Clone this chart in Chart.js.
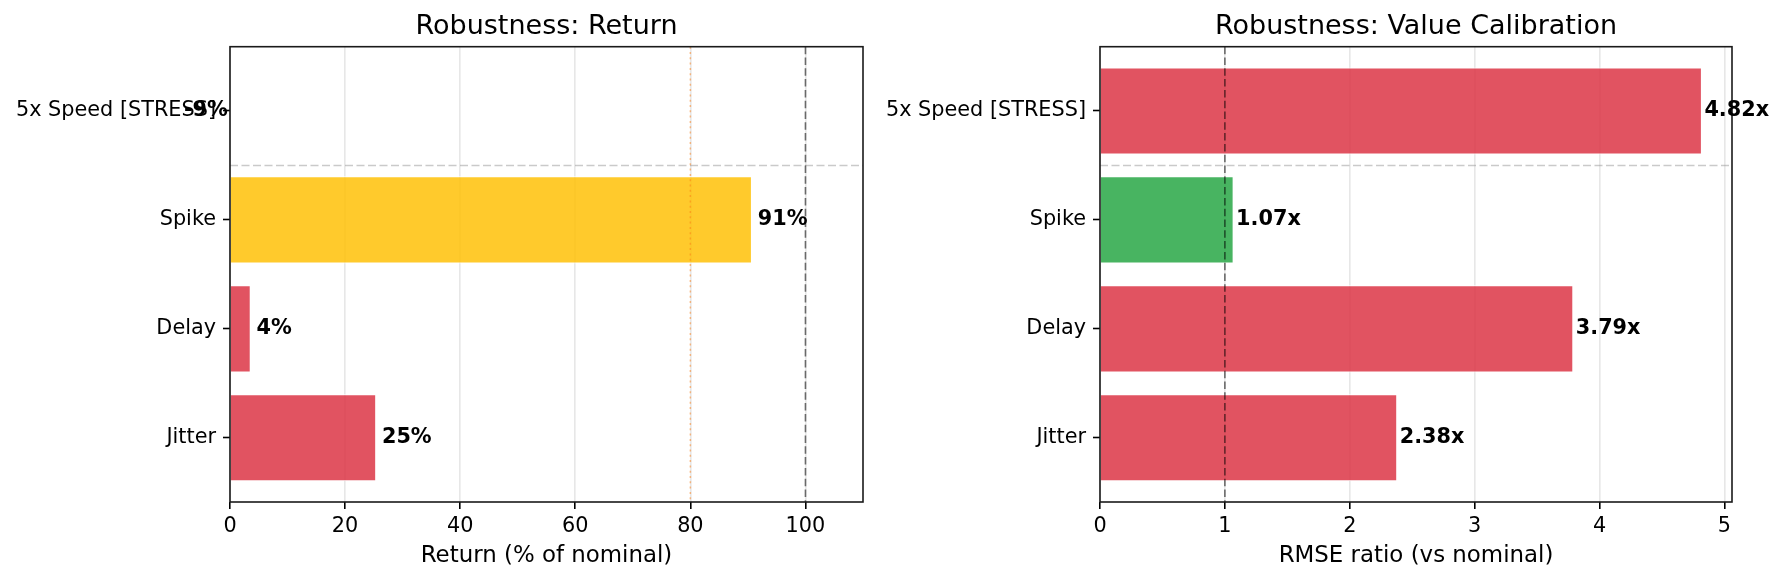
<!DOCTYPE html>
<html>
<head>
<meta charset="utf-8">
<script src="https://cdn.jsdelivr.net/npm/chart.js@4.4.1/dist/chart.umd.min.js"></script>
<style>
  html, body { margin: 0; padding: 0; background: #fff; }
  #wrap { position: relative; width: 1785px; height: 583px; }
  .box { position: absolute; top: 0; height: 583px; }
</style>
</head>
<body>
<div id="wrap">
  <div class="box" style="left:0;width:892px"><canvas id="ret"></canvas></div>
  <div class="box" style="left:850px;width:935px"><canvas id="rmse"></canvas></div>
</div>
<script>
// categories, top to bottom
const categories = ['5x Speed [STRESS]', 'Spike', 'Delay', 'Jitter']

const returnPct = [-9, 90.7, 3.6, 25.4]
const returnColors = ['red', 'yellow', 'red', 'red']
const returnTicks = [0, 20, 40, 60, 80, 100]
const returnMax = 110

const rmseRatio = [4.82, 1.07, 3.79, 2.38]
const rmseColors = ['red', 'green', 'red', 'red']
const rmseTicks = [0, 1, 2, 3, 4, 5]
const rmseMax = 5.061

// reference lines (x value + style name)
const returnRefs = [{x: 100, style: 'dash'}, {x: 80, style: 'dot'}]
const rmseRefs = [{x: 1, style: 'dash'}]
const stressSplit = 0.5

const palette = {
  red: 'rgba(220,53,69,0.85)',
  yellow: 'rgba(255,193,7,0.85)',
  green: 'rgba(40,167,69,0.85)'
}
const lineStyles = {
  dash: {color: 'rgba(0,0,0,0.55)', width: 1.6, dash: [7.5, 3.3]},
  dot: {color: 'rgba(253,126,20,0.5)', width: 1.5, dash: [2, 3.3]}
}

Chart.defaults.font.family = '"DejaVu Sans", sans-serif'
Chart.defaults.color = '#000'

// separator, reference lines, frame and value labels, drawn on top
function overlay(o) {
  return {
    id: 'overlay',
    afterDraw(chart) {
      const {ctx, chartArea: a} = chart
      const xs = chart.scales.x, ys = chart.scales.y
      ctx.save()

      let y = ys.getPixelForValue(stressSplit)
      ctx.strokeStyle = 'rgba(150,150,150,0.5)'
      ctx.lineWidth = 1.6
      ctx.setLineDash([8, 3.5])
      ctx.beginPath(); ctx.moveTo(a.left, y); ctx.lineTo(a.right, y); ctx.stroke()

      o.refs.forEach(r => {
        const st = lineStyles[r.style]
        const x = xs.getPixelForValue(r.x)
        ctx.strokeStyle = st.color
        ctx.lineWidth = st.width
        ctx.setLineDash(st.dash)
        ctx.beginPath(); ctx.moveTo(x, a.top); ctx.lineTo(x, a.bottom); ctx.stroke()
      })

      ctx.setLineDash([])
      ctx.strokeStyle = '#1a1a1a'
      ctx.lineWidth = 1.6
      ctx.strokeRect(a.left, a.top, a.right - a.left, a.bottom - a.top)

      ctx.fillStyle = '#000'
      ctx.font = 'bold 20.8px "DejaVu Sans"'
      ctx.textBaseline = 'middle'
      ctx.textAlign = 'left'
      o.values.forEach((v, i) => {
        ctx.fillText(o.format(v), xs.getPixelForValue(v + o.offset), ys.getPixelForValue(i))
      })
      ctx.restore()
    }
  }
}

function makeChart(id, opts) {
  return new Chart(document.getElementById(id), {
    type: 'bar',
    data: {
      datasets: [{
        data: opts.values.map((v, i) => ({x: v, y: i})),
        backgroundColor: opts.colors.map(c => palette[c]),
        borderColor: '#fff',
        borderWidth: 1,
        barPercentage: 0.8,
        categoryPercentage: 1
      }]
    },
    options: {
      indexAxis: 'y',
      responsive: true,
      maintainAspectRatio: false,
      animation: false,
      devicePixelRatio: 1,
      layout: {padding: {left: 0, right: opts.padRight, top: 0, bottom: 0}},
      plugins: {
        legend: {display: false},
        tooltip: {enabled: false},
        title: {
          display: true, text: opts.title, fullSize: false, color: '#000',
          font: {size: 27, weight: 'normal'}, padding: {top: 11, bottom: 3.3}
        }
      },
      scales: {
        x: {
          type: 'linear', min: 0, max: opts.xMax, z: 1,
          afterBuildTicks: s => { s.ticks = opts.ticks.map(v => ({value: v})) },
          afterFit: s => { s.height = 81 },
          grid: {color: 'rgba(176,176,176,0.3)', lineWidth: 1.6, tickLength: 7, tickColor: '#000', tickWidth: 1.6},
          border: {display: false},
          ticks: {color: '#000', font: {size: 20.8}, padding: 5, maxRotation: 0, callback: v => String(v)},
          title: {display: true, text: opts.xLabel, color: '#000', font: {size: 22.9}, padding: {top: 0, bottom: 13}}
        },
        y: {
          type: 'linear', min: -0.59, max: 3.59, reverse: true, offset: false,
          afterBuildTicks: s => { s.ticks = categories.map((c, i) => ({value: i})) },
          afterFit: s => { s.width = opts.yWidth },
          grid: {drawOnChartArea: false, offset: false, tickLength: 7, tickColor: '#000', tickWidth: 1.6},
          border: {display: false},
          ticks: {color: '#000', font: {size: 20.8}, padding: 7, callback: v => categories[v]}
        }
      }
    },
    plugins: [overlay(opts)]
  })
}

makeChart('ret', {
  title: 'Robustness: Return', xLabel: 'Return (% of nominal)',
  values: returnPct, colors: returnColors, ticks: returnTicks, xMax: returnMax,
  refs: returnRefs, yWidth: 230, padRight: 29, offset: 1,
  format: v => Math.round(v) + '%'
})

makeChart('rmse', {
  title: 'Robustness: Value Calibration', xLabel: 'RMSE ratio (vs nominal)',
  values: rmseRatio, colors: rmseColors, ticks: rmseTicks, xMax: rmseMax,
  refs: rmseRefs, yWidth: 250, padRight: 53, offset: 0.02,
  format: v => v.toFixed(2) + 'x'
})
</script>
</body>
</html>
